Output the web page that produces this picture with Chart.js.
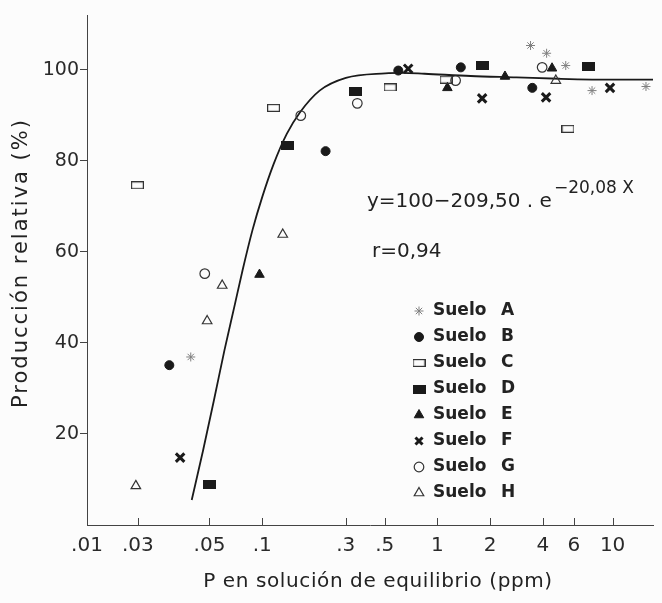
<!DOCTYPE html>
<html>
<head>
<meta charset="utf-8">
<title>Producción relativa vs P en solución</title>
<script src="https://cdn.jsdelivr.net/npm/chart.js@4.4.1/dist/chart.umd.min.js"></script>
<style>
  html, body { margin: 0; padding: 0; background: #fcfcfc; }
  #chart { display: block; }
</style>
</head>
<body>
<canvas id="chart" width="662" height="603"></canvas>
<script>
// valores (x = P ppm, y = produccion relativa %)
const sueloA_x = [0.0391, 3.40, 4.20, 5.40, 7.63, 15.5]
const sueloA_y = [36.9, 105.3, 103.6, 100.9, 95.4, 96.3]
const sueloB_x = [0.0295, 0.23, 0.598, 1.36, 3.48]
const sueloB_y = [35.1, 82.1, 99.8, 100.5, 96.0]
const sueloC_x = [0.0194, 0.116, 0.537, 1.12, 5.56]
const sueloC_y = [74.6, 91.6, 96.1, 97.8, 87.0]
const sueloD_x = [0.050, 0.140, 0.342, 1.80, 7.24]
const sueloD_y = [8.8, 83.3, 95.2, 100.9, 100.7]
const sueloE_x = [0.0965, 1.14, 2.43, 4.51]
const sueloE_y = [55.0, 96.0, 98.5, 100.3]
const sueloF_x = [0.034, 0.681, 1.80, 4.17, 9.66]
const sueloF_y = [14.8, 100.2, 93.7, 93.9, 96.0]
const sueloG_x = [0.047, 0.166, 0.349, 1.27, 3.96]
const sueloG_y = [55.2, 89.9, 92.6, 97.6, 100.5]
const sueloH_x = [0.019, 0.0485, 0.0591, 0.131, 4.74]
const sueloH_y = [8.6, 44.8, 52.6, 63.8, 97.6]

// curva ajustada, puntos leidos sobre la linea
const curveX = [0.0396, 0.046, 0.0535, 0.0609, 0.0693, 0.0772, 0.0879, 0.100, 0.1163, 0.1381, 0.1641, 0.2126, 0.3002, 0.5038, 0.6254, 0.845, 1.547, 2.826, 4.954, 10.30, 17.0]
const curveY = [5.5, 16.4, 28.1, 38.4, 47.9, 55.9, 64.7, 72.0, 79.3, 85.9, 90.6, 95.4, 98.2, 99.2, 99.3, 99.1, 98.6, 98.3, 98.0, 97.8, 97.8]

const xTickValues = [0.01, 0.0195, 0.05, 0.1, 0.3, 0.5, 1, 2, 4, 6, 10]
const xTickLabels = ['.01', '.03', '.05', '.1', '.3', '.5', '1', '2', '4', '6', '10']
const yTickValues = [20, 40, 60, 80, 100]

const soilLabels = ['A', 'B', 'C', 'D', 'E', 'F', 'G', 'H']

const xTitle = 'P en solución de equilibrio (ppm)'
const yTitle = 'Producción relativa (%)'

const ink = '#1a1a1a'

function toPoints(xs, ys) {
    return xs.map((x, i) => ({ x: x, y: ys[i] }))
}

// rectangulos (abierto / lleno) para suelo C y D
function rectCanvas(w, h, filled) {
    const c = document.createElement('canvas')
    c.width = w
    c.height = h
    const g = c.getContext('2d')
    if (filled) {
        g.fillStyle = ink
        g.fillRect(0, 0, w, h)
    } else {
        g.strokeStyle = '#333'
        g.lineWidth = 1.2
        g.strokeRect(0.6, 0.6, w - 1.2, h - 1.2)
    }
    return c
}
const openRect = rectCanvas(13, 8, false)
const fullRect = rectCanvas(13, 9, true)

const markerStyles = [
    { pointStyle: 'star', radius: 4.5, borderWidth: 1, borderColor: '#808080', backgroundColor: 'rgba(0,0,0,0)' },
    { pointStyle: 'circle', radius: 4.5, borderWidth: 1, borderColor: ink, backgroundColor: ink },
    { pointStyle: openRect, radius: 6, borderWidth: 0, borderColor: '#333', backgroundColor: 'rgba(0,0,0,0)' },
    { pointStyle: fullRect, radius: 6, borderWidth: 0, borderColor: ink, backgroundColor: ink },
    { pointStyle: 'triangle', radius: 5.5, borderWidth: 1, borderColor: ink, backgroundColor: ink },
    { pointStyle: 'crossRot', radius: 6, borderWidth: 3, borderColor: ink, backgroundColor: ink },
    { pointStyle: 'circle', radius: 4.8, borderWidth: 1.2, borderColor: '#333', backgroundColor: 'rgba(0,0,0,0)' },
    { pointStyle: 'triangle', radius: 5.5, borderWidth: 1.2, borderColor: '#333', backgroundColor: 'rgba(0,0,0,0)' }
]

const soilData = [
    [sueloA_x, sueloA_y], [sueloB_x, sueloB_y], [sueloC_x, sueloC_y], [sueloD_x, sueloD_y],
    [sueloE_x, sueloE_y], [sueloF_x, sueloF_y], [sueloG_x, sueloG_y], [sueloH_x, sueloH_y]
]

const datasets = soilData.map((d, i) => ({
    type: 'scatter',
    label: 'Suelo ' + soilLabels[i],
    data: toPoints(d[0], d[1]),
    pointStyle: markerStyles[i].pointStyle,
    pointRadius: markerStyles[i].radius,
    pointBorderWidth: markerStyles[i].borderWidth,
    pointBorderColor: markerStyles[i].borderColor,
    pointBackgroundColor: markerStyles[i].backgroundColor,
    pointHoverRadius: markerStyles[i].radius
}))

datasets.push({
    type: 'line',
    label: 'ajuste',
    data: toPoints(curveX, curveY),
    borderColor: ink,
    borderWidth: 1.8,
    pointRadius: 0,
    fill: false,
    cubicInterpolationMode: 'monotone'
})

// marcas del eje x hacia adentro
const innerTicks = {
    id: 'innerTicks',
    afterDraw(chart) {
        const ctx = chart.ctx
        const xs = chart.scales.x
        const bottom = chart.chartArea.bottom
        ctx.save()
        ctx.strokeStyle = '#444'
        ctx.lineWidth = 1
        xTickValues.forEach(v => {
            const px = Math.round(xs.getPixelForValue(v)) + 0.5
            ctx.beginPath()
            ctx.moveTo(px, bottom)
            ctx.lineTo(px, bottom - 7)
            ctx.stroke()
        })
        ctx.restore()
    }
}

// titulos de ejes, ecuacion, r y leyenda
const annotations = {
    id: 'annotations',
    afterDraw(chart) {
        const ctx = chart.ctx
        ctx.save()
        ctx.fillStyle = '#222'
        ctx.textAlign = 'center'
        ctx.textBaseline = 'middle'

        // titulo eje x
        ctx.font = '20px "DejaVu Sans"'
        ctx.letterSpacing = '0.6px'
        ctx.fillText(xTitle, 378, 582)

        // titulo eje y (girado)
        ctx.save()
        ctx.translate(22, 263)
        ctx.rotate(-Math.PI / 2)
        ctx.font = '21px "DejaVu Sans"'
        ctx.letterSpacing = '2px'
        ctx.fillText(yTitle, 0, 0)
        ctx.restore()
        ctx.letterSpacing = '0px'

        ctx.textAlign = 'left'
        ctx.textBaseline = 'alphabetic'
        ctx.font = '20px "DejaVu Sans"'
        const mainText = 'y=100\u2212209,50 . e'
        ctx.fillText(mainText, 367, 207)
        const w = ctx.measureText(mainText).width
        ctx.font = '17px "DejaVu Sans"'
        ctx.fillText('\u221220,08 X', 367 + w + 2, 193)

        ctx.font = '20px "DejaVu Sans"'
        ctx.fillText('r=0,94', 372, 257)

        // leyenda
        const legendTop = 311
        const step = 26.0
        ctx.font = 'bold 17px "DejaVu Sans"'
        ctx.textBaseline = 'middle'
        soilLabels.forEach((s, i) => {
            const y = legendTop + i * step
            const m = markerStyles[i]
            ctx.fillStyle = '#222'
            ctx.fillText('Suelo', 433, y)
            ctx.fillText(s, 501, y)
            ctx.save()
            ctx.fillStyle = m.backgroundColor
            ctx.strokeStyle = m.borderColor
            ctx.lineWidth = m.borderWidth
            if (Chart.helpers && Chart.helpers.drawPoint) {
                Chart.helpers.drawPoint(ctx, {
                    pointStyle: m.pointStyle,
                    radius: i === 5 ? 5 : m.radius,
                    rotation: 0,
                    borderWidth: m.borderWidth
                }, 419, y)
            }
            ctx.restore()
        })
        ctx.restore()
    }
}

const config = {
    data: { datasets: datasets },
    options: {
        responsive: false,
        animation: false,
        layout: { padding: { top: 15, right: 0, left: 0, bottom: 0 } },
        plugins: {
            legend: { display: false },
            tooltip: { enabled: false }
        },
        scales: {
            x: {
                type: 'logarithmic',
                min: 0.01,
                max: 17,
                afterBuildTicks: scale => {
                    scale.ticks = xTickValues.map(v => ({ value: v }))
                },
                afterFit: scale => { scale.height = 78 },
                grid: { display: true, drawOnChartArea: false, drawTicks: false, color: '#444' },
                border: { display: true, color: '#444', width: 1 },
                ticks: {
                    autoSkip: false,
                    maxRotation: 0,
                    padding: 9,
                    color: '#2a2a2a',
                    font: { family: 'DejaVu Sans', size: 20 },
                    callback: (value, index) => xTickLabels[index]
                }
            },
            y: {
                type: 'linear',
                min: 0,
                max: 112,
                afterBuildTicks: scale => {
                    scale.ticks = yTickValues.map(v => ({ value: v }))
                },
                afterFit: scale => { scale.width = 87 },
                grid: { display: true, drawOnChartArea: false, drawTicks: true, tickLength: 7, color: '#444' },
                border: { display: true, color: '#444', width: 1 },
                ticks: {
                    padding: 1,
                    color: '#2a2a2a',
                    font: { family: 'DejaVu Sans', size: 19 }
                }
            }
        }
    },
    plugins: [innerTicks, annotations]
}

const myChart = new Chart(document.getElementById('chart'), config)
</script>
</body>
</html>
